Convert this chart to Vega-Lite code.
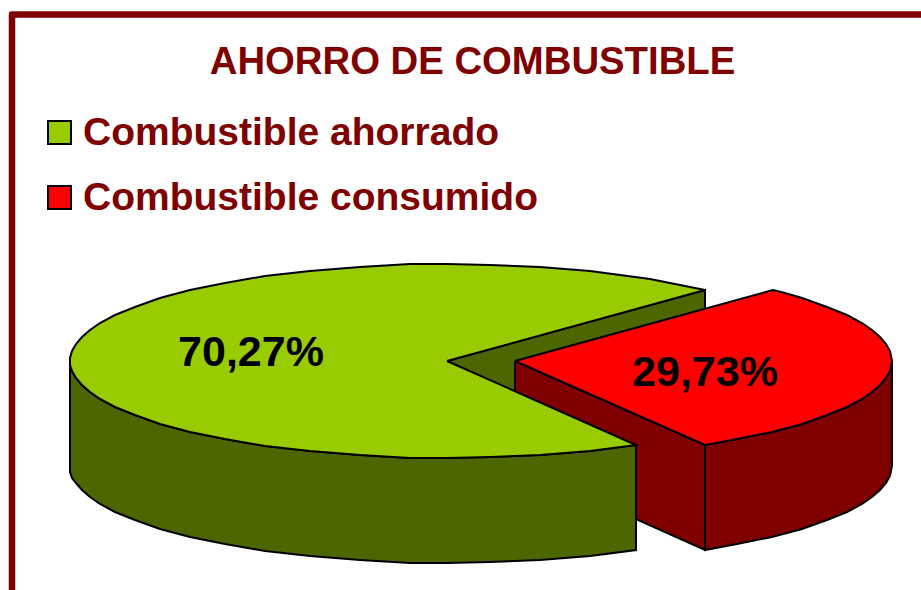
{"$schema":"https://vega.github.io/schema/vega-lite/v6.json","width":921,"height":590,"padding":0,"autosize":"none","background":"#ffffff","title":{"text":"AHORRO DE COMBUSTIBLE","font":"Liberation Sans","fontWeight":"bold","fontSize":38.3,"color":"#800000","anchor":"middle","frame":"group","dx":12,"offset":-120,"baseline":"bottom"},
"config":{"view":{"stroke":null}},
"datasets":{"formas":[
{"p":"marco","x":12,"y":590},{"p":"marco","x":12,"y":14.5},{"p":"marco","x":921,"y":14.5},
{"p":"pared","x":447,"y":361},{"p":"pared","x":705,"y":290},{"p":"pared","x":705,"y":400},{"p":"pared","x":515,"y":400},{"p":"pared","x":447,"y":361},
{"p":"rojoFrente","x":515,"y":361},{"p":"rojoFrente","x":705,"y":445},{"p":"rojoFrente","x":705,"y":550},{"p":"rojoFrente","x":515,"y":465},{"p":"rojoFrente","x":515,"y":361},
{"p":"rojoLado","x":892,"y":361},{"p":"rojoLado","x":890,"y":371},{"p":"rojoLado","x":886,"y":378},{"p":"rojoLado","x":880,"y":385},{"p":"rojoLado","x":872,"y":392},{"p":"rojoLado","x":862,"y":399},{"p":"rojoLado","x":847,"y":407},{"p":"rojoLado","x":827,"y":415},{"p":"rojoLado","x":802,"y":424},{"p":"rojoLado","x":772,"y":432},{"p":"rojoLado","x":737,"y":439},{"p":"rojoLado","x":705,"y":445},{"p":"rojoLado","x":705,"y":550},{"p":"rojoLado","x":737,"y":544},{"p":"rojoLado","x":772,"y":537},{"p":"rojoLado","x":802,"y":529},{"p":"rojoLado","x":827,"y":520},{"p":"rojoLado","x":847,"y":512},{"p":"rojoLado","x":862,"y":504},{"p":"rojoLado","x":872,"y":497},{"p":"rojoLado","x":880,"y":490},{"p":"rojoLado","x":886,"y":483},{"p":"rojoLado","x":890,"y":476},{"p":"rojoLado","x":892,"y":466},{"p":"rojoLado","x":892,"y":361},
{"p":"rojoTapa","s":"Combustible consumido","x":515,"y":361},{"p":"rojoTapa","s":"Combustible consumido","x":773,"y":290},{"p":"rojoTapa","s":"Combustible consumido","x":785,"y":293},{"p":"rojoTapa","s":"Combustible consumido","x":802,"y":298},{"p":"rojoTapa","s":"Combustible consumido","x":827,"y":307},{"p":"rojoTapa","s":"Combustible consumido","x":847,"y":315},{"p":"rojoTapa","s":"Combustible consumido","x":862,"y":323},{"p":"rojoTapa","s":"Combustible consumido","x":872,"y":330},{"p":"rojoTapa","s":"Combustible consumido","x":880,"y":337},{"p":"rojoTapa","s":"Combustible consumido","x":886,"y":344},{"p":"rojoTapa","s":"Combustible consumido","x":890,"y":351},{"p":"rojoTapa","s":"Combustible consumido","x":892,"y":361},{"p":"rojoTapa","s":"Combustible consumido","x":890,"y":371},{"p":"rojoTapa","s":"Combustible consumido","x":886,"y":378},{"p":"rojoTapa","s":"Combustible consumido","x":880,"y":385},{"p":"rojoTapa","s":"Combustible consumido","x":872,"y":392},{"p":"rojoTapa","s":"Combustible consumido","x":862,"y":399},{"p":"rojoTapa","s":"Combustible consumido","x":847,"y":407},{"p":"rojoTapa","s":"Combustible consumido","x":827,"y":415},{"p":"rojoTapa","s":"Combustible consumido","x":802,"y":424},{"p":"rojoTapa","s":"Combustible consumido","x":772,"y":432},{"p":"rojoTapa","s":"Combustible consumido","x":737,"y":439},{"p":"rojoTapa","s":"Combustible consumido","x":705,"y":445},{"p":"rojoTapa","s":"Combustible consumido","x":515,"y":361},
{"p":"verdeLado","x":70,"y":365},{"p":"verdeLado","x":72,"y":371},{"p":"verdeLado","x":76,"y":378},{"p":"verdeLado","x":82,"y":385},{"p":"verdeLado","x":90,"y":392},{"p":"verdeLado","x":100,"y":399},{"p":"verdeLado","x":115,"y":407},{"p":"verdeLado","x":135,"y":415},{"p":"verdeLado","x":160,"y":424},{"p":"verdeLado","x":190,"y":432},{"p":"verdeLado","x":225,"y":439},{"p":"verdeLado","x":265,"y":446},{"p":"verdeLado","x":310,"y":451},{"p":"verdeLado","x":360,"y":455},{"p":"verdeLado","x":410,"y":458},{"p":"verdeLado","x":447,"y":458},{"p":"verdeLado","x":490,"y":457},{"p":"verdeLado","x":540,"y":455},{"p":"verdeLado","x":590,"y":451},{"p":"verdeLado","x":636,"y":445},{"p":"verdeLado","x":636,"y":550},{"p":"verdeLado","x":590,"y":556},{"p":"verdeLado","x":540,"y":560},{"p":"verdeLado","x":490,"y":562},{"p":"verdeLado","x":447,"y":563},{"p":"verdeLado","x":410,"y":563},{"p":"verdeLado","x":360,"y":560},{"p":"verdeLado","x":310,"y":556},{"p":"verdeLado","x":265,"y":551},{"p":"verdeLado","x":225,"y":544},{"p":"verdeLado","x":190,"y":537},{"p":"verdeLado","x":160,"y":529},{"p":"verdeLado","x":135,"y":520},{"p":"verdeLado","x":115,"y":512},{"p":"verdeLado","x":100,"y":504},{"p":"verdeLado","x":90,"y":497},{"p":"verdeLado","x":82,"y":490},{"p":"verdeLado","x":76,"y":483},{"p":"verdeLado","x":72,"y":478},{"p":"verdeLado","x":70,"y":472},{"p":"verdeLado","x":70,"y":365},
{"p":"verdeTapa","s":"Combustible ahorrado","x":447,"y":361},{"p":"verdeTapa","s":"Combustible ahorrado","x":705,"y":290},{"p":"verdeTapa","s":"Combustible ahorrado","x":680,"y":285},{"p":"verdeTapa","s":"Combustible ahorrado","x":650,"y":279},{"p":"verdeTapa","s":"Combustible ahorrado","x":620,"y":275},{"p":"verdeTapa","s":"Combustible ahorrado","x":590,"y":271},{"p":"verdeTapa","s":"Combustible ahorrado","x":540,"y":267},{"p":"verdeTapa","s":"Combustible ahorrado","x":490,"y":265},{"p":"verdeTapa","s":"Combustible ahorrado","x":447,"y":264},{"p":"verdeTapa","s":"Combustible ahorrado","x":410,"y":264},{"p":"verdeTapa","s":"Combustible ahorrado","x":360,"y":267},{"p":"verdeTapa","s":"Combustible ahorrado","x":310,"y":271},{"p":"verdeTapa","s":"Combustible ahorrado","x":265,"y":276},{"p":"verdeTapa","s":"Combustible ahorrado","x":225,"y":283},{"p":"verdeTapa","s":"Combustible ahorrado","x":190,"y":290},{"p":"verdeTapa","s":"Combustible ahorrado","x":160,"y":298},{"p":"verdeTapa","s":"Combustible ahorrado","x":135,"y":307},{"p":"verdeTapa","s":"Combustible ahorrado","x":115,"y":315},{"p":"verdeTapa","s":"Combustible ahorrado","x":100,"y":323},{"p":"verdeTapa","s":"Combustible ahorrado","x":90,"y":330},{"p":"verdeTapa","s":"Combustible ahorrado","x":82,"y":337},{"p":"verdeTapa","s":"Combustible ahorrado","x":76,"y":344},{"p":"verdeTapa","s":"Combustible ahorrado","x":72,"y":351},{"p":"verdeTapa","s":"Combustible ahorrado","x":70,"y":358},{"p":"verdeTapa","s":"Combustible ahorrado","x":70,"y":365},{"p":"verdeTapa","s":"Combustible ahorrado","x":72,"y":371},{"p":"verdeTapa","s":"Combustible ahorrado","x":76,"y":378},{"p":"verdeTapa","s":"Combustible ahorrado","x":82,"y":385},{"p":"verdeTapa","s":"Combustible ahorrado","x":90,"y":392},{"p":"verdeTapa","s":"Combustible ahorrado","x":100,"y":399},{"p":"verdeTapa","s":"Combustible ahorrado","x":115,"y":407},{"p":"verdeTapa","s":"Combustible ahorrado","x":135,"y":415},{"p":"verdeTapa","s":"Combustible ahorrado","x":160,"y":424},{"p":"verdeTapa","s":"Combustible ahorrado","x":190,"y":432},{"p":"verdeTapa","s":"Combustible ahorrado","x":225,"y":439},{"p":"verdeTapa","s":"Combustible ahorrado","x":265,"y":446},{"p":"verdeTapa","s":"Combustible ahorrado","x":310,"y":451},{"p":"verdeTapa","s":"Combustible ahorrado","x":360,"y":455},{"p":"verdeTapa","s":"Combustible ahorrado","x":410,"y":458},{"p":"verdeTapa","s":"Combustible ahorrado","x":447,"y":458},{"p":"verdeTapa","s":"Combustible ahorrado","x":490,"y":457},{"p":"verdeTapa","s":"Combustible ahorrado","x":540,"y":455},{"p":"verdeTapa","s":"Combustible ahorrado","x":590,"y":451},{"p":"verdeTapa","s":"Combustible ahorrado","x":636,"y":445},{"p":"verdeTapa","s":"Combustible ahorrado","x":447,"y":361}
],"valores":[{"serie":"Combustible ahorrado","valor":70.27,"etiqueta":"70,27%","x":251,"y":353},{"serie":"Combustible consumido","valor":29.73,"etiqueta":"29,73%","x":705,"y":373}]},
"data":{"name":"formas"},
"encoding":{"x":{"field":"x","type":"quantitative","axis":null,"scale":{"domain":[0,921],"nice":false}},"y":{"field":"y","type":"quantitative","axis":null,"scale":{"domain":[590,0],"nice":false}},"order":{"value":null}},
"layer":[
{"transform":[{"filter":"datum.p==='pared'"}],"mark":{"type":"line","fill":"#4D6600","stroke":"#000000","strokeWidth":2}},
{"transform":[{"filter":"datum.p==='rojoFrente'"}],"mark":{"type":"line","fill":"#800000","stroke":"#000000","strokeWidth":2}},
{"transform":[{"filter":"datum.p==='rojoLado'"}],"mark":{"type":"line","fill":"#800000","stroke":"#000000","strokeWidth":2}},
{"transform":[{"filter":"datum.p==='rojoTapa'"}],"mark":{"type":"line","stroke":"#000000","strokeWidth":2},"encoding":{"fill":{"field":"s","type":"nominal","scale":{"domain":["Combustible ahorrado","Combustible consumido"],"range":["#99CC00","#FF0000"]},"legend":{"title":null,"orient":"none","legendX":40,"legendY":113,"symbolType":"square","symbolSize":529,"symbolStrokeColor":"#000000","symbolStrokeWidth":2,"symbolFillColor":null,"labelFont":"Liberation Sans","labelFontWeight":"bold","labelFontSize":39,"labelColor":"#800000","labelOffset":4,"labelLimit":600,"rowPadding":25}}}},
{"transform":[{"filter":"datum.p==='verdeLado'"}],"mark":{"type":"line","fill":"#4D6600","stroke":"#000000","strokeWidth":2}},
{"transform":[{"filter":"datum.p==='verdeTapa'"}],"mark":{"type":"line","stroke":"#000000","strokeWidth":2},"encoding":{"fill":{"field":"s","type":"nominal"}}},
{"transform":[{"filter":"datum.p==='marco'"}],"mark":{"type":"line","stroke":"#800000","strokeWidth":6.5,"strokeJoin":"round"}},
{"data":{"name":"valores"},"mark":{"type":"text","font":"Liberation Sans","fontWeight":"bold","fontSize":43,"color":"#000000","align":"center","baseline":"middle"},"encoding":{"text":{"field":"etiqueta","type":"nominal"},"order":null}}
]}
